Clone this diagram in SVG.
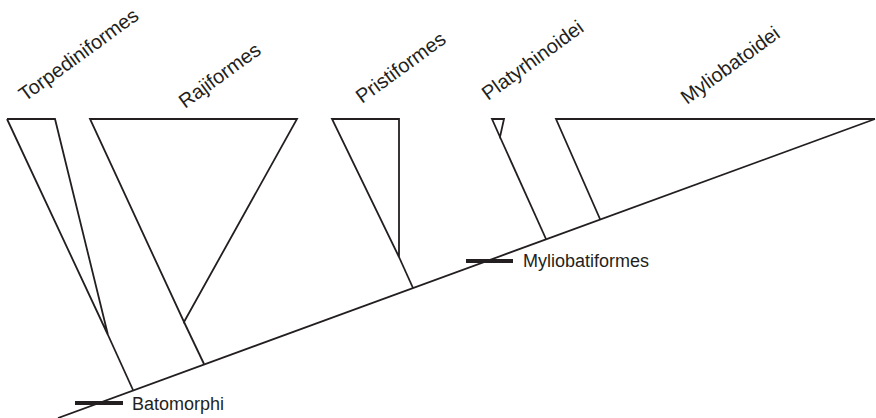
<svg xmlns="http://www.w3.org/2000/svg" width="876" height="418" viewBox="0 0 876 418">
<style>
.ln{fill:none;stroke:#231f20;stroke-width:1.8;stroke-linejoin:miter}
.mk{stroke:#231f20;stroke-width:4}
.lb{font-family:"Liberation Sans",Arial,sans-serif;font-size:20px;fill:#231f20}
.hl{font-family:"Liberation Sans",Arial,sans-serif;font-size:18px;fill:#231f20}
</style>
<rect width="876" height="418" fill="#fff"/>
<g id="connectors">
<line class="ln" x1="58" y1="418" x2="875" y2="119"/>
<line class="ln" x1="108" y1="335" x2="133" y2="390"/>
<line class="ln" x1="184" y1="322" x2="204" y2="364"/>
<line class="ln" x1="399" y1="257" x2="413" y2="288"/>
<line class="ln" x1="500" y1="137" x2="546" y2="239"/>
</g>
<g id="torpediniformes">
<polyline class="ln" points="7,119 55,119 108,335 7,119"/>
<text class="lb" transform="translate(25,102) rotate(-36)">Torpediniformes</text>
</g>
<g id="rajiformes">
<polygon class="ln" points="90,119 297,119 184,322"/>
<text class="lb" transform="translate(185,109) rotate(-36)">Rajiformes</text>
</g>
<g id="pristiformes">
<polygon class="ln" points="332,119 399,119 399,257"/>
<text class="lb" transform="translate(362,104) rotate(-36)">Pristiformes</text>
</g>
<g id="platyrhinoidei">
<polygon class="ln" points="492,119 504,119 500,137"/>
<text class="lb" transform="translate(488,101) rotate(-36)">Platyrhinoidei</text>
</g>
<g id="myliobatoidei">
<polyline class="ln" points="600,219 556,119 875,119"/>
<text class="lb" transform="translate(687,105) rotate(-36)">Myliobatoidei</text>
</g>
<g id="myliobatiformes">
<line class="mk" x1="466" y1="261" x2="513" y2="261"/>
<text class="hl" x="523" y="267">Myliobatiformes</text>
</g>
<g id="batomorphi">
<line class="mk" x1="75" y1="403" x2="123" y2="403"/>
<text class="hl" x="132" y="410">Batomorphi</text>
</g>
</svg>
